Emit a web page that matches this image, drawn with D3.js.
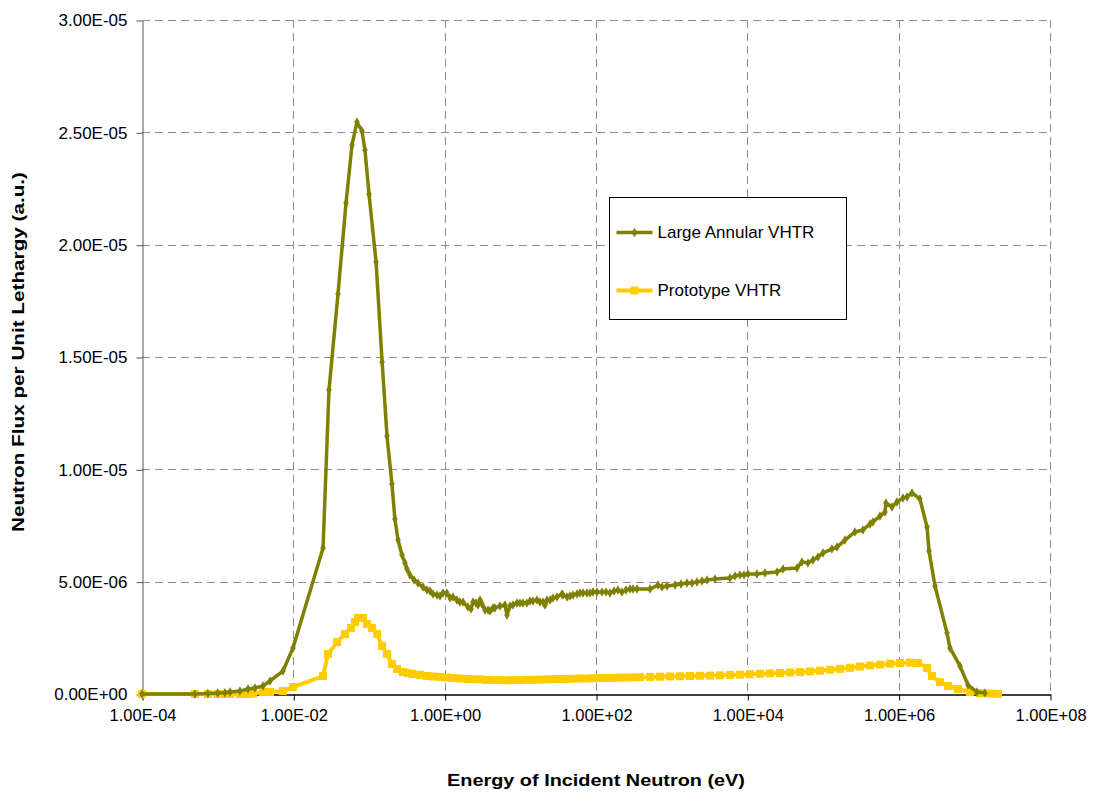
<!DOCTYPE html>
<html>
<head>
<meta charset="utf-8">
<script src="https://cdn.jsdelivr.net/npm/d3@7"></script>
<style>
  html, body { margin: 0; padding: 0; background: #fff; }
  svg { display: block; font-family: "Liberation Sans", Arial, sans-serif; }
</style>
</head>
<body>
<svg id="chart" width="1099" height="795"></svg>
<script>
// Neutron energy (eV) and flux per unit lethargy for the large annular core
const energyLarge = [
  1.0e-4, 5.0e-4, 7.4e-4, 1.0e-3, 1.25e-3, 1.46e-3, 1.97e-3, 2.52e-3, 3.11e-3, 3.97e-3,
  4.92e-3, 7.29e-3, 9.89e-3, 2.47e-2, 2.96e-2, 3.89e-2, 4.97e-2, 5.96e-2, 6.93e-2, 8.07e-2,
  8.85e-2, 0.100, 0.124, 0.149, 0.173, 0.201, 0.220, 0.242, 0.273, 0.299,
  0.318, 0.348, 0.394, 0.444, 0.518, 0.583, 0.640, 0.702, 0.792, 0.867,
  0.951, 1.07, 1.18, 1.29, 1.45, 1.59, 1.75, 2.03, 2.23, 2.37,
  2.59, 2.76, 2.93, 3.11, 3.41, 3.74, 3.97, 4.35, 4.62, 5.38,
  6.27, 6.66, 7.30, 8.00, 9.03, 9.89, 10.8, 12.2, 13.4, 14.7,
  16.6, 18.2, 19.9, 21.2, 22.5, 24.7, 27.0, 30.5, 35.5, 36.6,
  41.4, 45.3, 49.7, 56.1, 61.4, 67.3, 76.0, 83.2, 91.2, 103,
  120, 136, 153, 173, 195, 220, 249, 281, 308, 348,
  517, 659, 745, 867, 1107, 1327, 1592, 1854, 2158, 2518,
  2931, 3733, 5902, 6871, 7998, 9036, 1.02e4, 1.34e4, 1.71e4, 2.47e4,
  2.96e4, 4.53e4, 5.27e4, 6.33e4, 7.36e4, 8.58e4, 1.0e5, 1.31e5, 1.53e5, 1.95e5,
  2.64e5, 3.37e5, 4.18e5, 4.57e5, 5.66e5, 6.59e5, 6.79e5, 8.16e5, 9.49e5, 1.14e6,
  1.29e6, 1.50e6, 1.91e6, 2.37e6, 2.52e6, 3.02e6, 4.35e6, 4.76e6, 6.46e6, 8.24e6,
  1.08e7, 1.38e7
];
const fluxLarge = [
  0, 0, 0.02e-6, 0.04e-6, 0.06e-6, 0.09e-6, 0.13e-6, 0.22e-6, 0.27e-6, 0.36e-6,
  0.58e-6, 1.02e-6, 2.05e-6, 6.50e-6, 13.53e-6, 17.80e-6, 21.85e-6, 24.44e-6, 25.46e-6, 25.06e-6,
  24.21e-6, 22.25e-6, 19.23e-6, 14.78e-6, 11.48e-6, 9.35e-6, 7.79e-6, 6.85e-6, 6.19e-6, 5.83e-6,
  5.56e-6, 5.30e-6, 5.07e-6, 4.94e-6, 4.76e-6, 4.63e-6, 4.58e-6, 4.45e-6, 4.41e-6, 4.36e-6,
  4.50e-6, 4.50e-6, 4.27e-6, 4.32e-6, 4.18e-6, 4.09e-6, 4.09e-6, 3.87e-6, 3.78e-6, 4.09e-6,
  4.05e-6, 3.96e-6, 4.18e-6, 4.01e-6, 3.74e-6, 3.74e-6, 3.69e-6, 3.83e-6, 3.83e-6, 3.92e-6,
  3.96e-6, 3.52e-6, 3.92e-6, 3.96e-6, 4.05e-6, 4.05e-6, 4.05e-6, 4.05e-6, 4.14e-6, 4.14e-6,
  4.18e-6, 4.09e-6, 4.09e-6, 3.96e-6, 4.18e-6, 4.18e-6, 4.27e-6, 4.32e-6, 4.45e-6, 4.41e-6,
  4.32e-6, 4.36e-6, 4.41e-6, 4.45e-6, 4.50e-6, 4.50e-6, 4.50e-6, 4.50e-6, 4.54e-6, 4.54e-6,
  4.54e-6, 4.54e-6, 4.50e-6, 4.58e-6, 4.63e-6, 4.54e-6, 4.63e-6, 4.67e-6, 4.67e-6, 4.67e-6,
  4.67e-6, 4.85e-6, 4.76e-6, 4.81e-6, 4.85e-6, 4.90e-6, 4.94e-6, 4.94e-6, 4.99e-6, 5.03e-6,
  5.07e-6, 5.12e-6, 5.16e-6, 5.25e-6, 5.30e-6, 5.30e-6, 5.34e-6, 5.34e-6, 5.39e-6, 5.43e-6,
  5.56e-6, 5.61e-6, 5.88e-6, 5.83e-6, 5.96e-6, 6.10e-6, 6.28e-6, 6.45e-6, 6.54e-6, 6.85e-6,
  7.21e-6, 7.30e-6, 7.57e-6, 7.66e-6, 7.92e-6, 8.10e-6, 8.50e-6, 8.32e-6, 8.55e-6, 8.72e-6,
  8.77e-6, 8.95e-6, 8.68e-6, 7.43e-6, 6.36e-6, 4.81e-6, 2.72e-6, 2.05e-6, 1.25e-6, 0.40e-6,
  0.09e-6, 0.04e-6
];

// Neutron energy (eV) and flux per unit lethargy for the prototype core
const energyProto = [
  1.0e-4, 5.0e-4, 7.4e-4, 1.0e-3, 1.25e-3, 1.46e-3, 1.97e-3, 2.52e-3, 2.93e-3, 3.97e-3,
  4.92e-3, 7.29e-3, 9.89e-3, 2.47e-2, 2.87e-2, 3.78e-2, 4.82e-2, 5.78e-2, 6.53e-2, 7.16e-2,
  8.34e-2, 9.40e-2, 0.110, 0.128, 0.149, 0.173, 0.201, 0.234, 0.281, 0.327,
  0.381, 0.472, 0.583, 0.702, 0.867, 1.07, 1.29, 1.59, 1.97, 2.37,
  2.93, 3.62, 4.35, 5.38, 6.66, 8.00, 9.89, 12.2, 14.7, 18.2,
  22.5, 27.0, 33.4, 41.4, 49.7, 61.4, 76.0, 91.2, 113, 140,
  167, 207, 257, 308, 381, 517, 700, 950, 1288, 1747,
  2366, 3208, 4348, 5902, 7998, 1.08e4, 1.47e4, 1.99e4, 2.70e4, 3.66e4,
  4.97e4, 6.73e4, 9.12e4, 1.24e5, 1.67e5, 2.27e5, 3.08e5, 4.18e5, 5.66e5, 7.67e5,
  1.04e6, 1.41e6, 1.80e6, 2.37e6, 2.75e6, 3.52e6, 4.48e6, 6.08e6, 8.75e6, 1.19e7,
  1.61e7, 2.05e7
];
const fluxProto = [
  0, 0, 0, 0, 0, 0, 0, 0, 0.02e-6, 0.09e-6,
  0.09e-6, 0.13e-6, 0.31e-6, 0.80e-6, 1.78e-6, 2.31e-6, 2.67e-6, 2.94e-6, 3.20e-6, 3.38e-6,
  3.38e-6, 3.12e-6, 2.94e-6, 2.67e-6, 2.14e-6, 1.78e-6, 1.34e-6, 1.11e-6, 0.98e-6, 0.93e-6,
  0.89e-6, 0.85e-6, 0.80e-6, 0.78e-6, 0.76e-6, 0.74e-6, 0.71e-6, 0.69e-6, 0.67e-6, 0.66e-6,
  0.65e-6, 0.63e-6, 0.62e-6, 0.62e-6, 0.61e-6, 0.62e-6, 0.62e-6, 0.63e-6, 0.63e-6, 0.64e-6,
  0.65e-6, 0.66e-6, 0.67e-6, 0.67e-6, 0.68e-6, 0.69e-6, 0.69e-6, 0.70e-6, 0.71e-6, 0.71e-6,
  0.72e-6, 0.73e-6, 0.73e-6, 0.74e-6, 0.75e-6, 0.76e-6, 0.77e-6, 0.78e-6, 0.79e-6, 0.80e-6,
  0.81e-6, 0.82e-6, 0.83e-6, 0.85e-6, 0.86e-6, 0.88e-6, 0.90e-6, 0.92e-6, 0.94e-6, 0.96e-6,
  0.98e-6, 1.01e-6, 1.04e-6, 1.08e-6, 1.12e-6, 1.17e-6, 1.22e-6, 1.27e-6, 1.31e-6, 1.35e-6,
  1.38e-6, 1.40e-6, 1.38e-6, 1.16e-6, 0.80e-6, 0.53e-6, 0.36e-6, 0.22e-6, 0.09e-6, 0.04e-6,
  0.02e-6, 0.01e-6
];

const seriesNames = ["Large Annular VHTR", "Prototype VHTR"];
const seriesColors = ["#808000", "#FFCC00"];

const xTicks = [1e-4, 1e-2, 1e0, 1e2, 1e4, 1e6, 1e8];
const yTicks = [0, 5e-6, 1e-5, 1.5e-5, 2e-5, 2.5e-5, 3e-5];

const xTitle = "Energy of Incident Neutron (eV)";
const yTitle = "Neutron Flux per Unit Lethargy (a.u.)";

// Spreadsheet-style scientific notation: 1.00E-04
function sci(v) {
  if (v === 0) return "0.00E+00";
  let e = Math.floor(Math.log10(Math.abs(v)) + 1e-9);
  let m = v / Math.pow(10, e);
  if (Math.abs(m) >= 9.995) { m /= 10; e += 1; }
  return m.toFixed(2) + "E" + (e < 0 ? "-" : "+") + String(Math.abs(e)).padStart(2, "0");
}

const svg = d3.select("#chart");
const plot = { left: 142, top: 20, right: 1050, bottom: 694 };

const x = d3.scaleLog().domain([1e-4, 1e8]).range([plot.left, plot.right]);
const y = d3.scaleLinear().domain([0, 3e-5]).range([plot.bottom, plot.top]);

// Dashed grid
const grid = svg.append("g").attr("stroke", "#8c8c8c").attr("stroke-width", 1)
  .attr("stroke-dasharray", "8,5");
grid.selectAll("line.h").data(yTicks.filter(d => d > 0)).join("line")
  .attr("class", "h")
  .attr("x1", plot.left).attr("x2", plot.right)
  .attr("y1", d => Math.round(y(d)) + 0.5).attr("y2", d => Math.round(y(d)) + 0.5);
grid.selectAll("line.v").data(xTicks.slice(1)).join("line")
  .attr("class", "v")
  .attr("y1", plot.top).attr("y2", plot.bottom)
  .attr("x1", d => Math.round(x(d)) + 0.5).attr("x2", d => Math.round(x(d)) + 0.5);

// Axes
const xAxis = d3.axisBottom(x).tickValues(xTicks).tickFormat(sci).tickSize(6).tickSizeOuter(0);
const yAxis = d3.axisLeft(y).tickValues(yTicks).tickFormat(sci).tickSize(6).tickSizeOuter(0);

const gx = svg.append("g").attr("transform", `translate(0.5,${plot.bottom + 0.5})`).call(xAxis);
const gy = svg.append("g").attr("transform", `translate(${plot.left + 0.5},0.5)`).call(yAxis);

gx.select(".domain").attr("stroke", "#000").attr("stroke-width", 1.3);
gx.selectAll(".tick line").attr("stroke", "#000");
gx.selectAll(".tick text").attr("font-size", 16.5).attr("fill", "#000").attr("dy", "1.05em")
  .attr("font-family", "Liberation Sans, Arial, sans-serif");
gy.select(".domain").attr("stroke", "#555");
gy.selectAll(".tick line").attr("stroke", "#555");
gy.selectAll(".tick text").attr("font-size", 17).attr("fill", "#000").attr("x", -15)
  .attr("font-family", "Liberation Sans, Arial, sans-serif");

// Axis titles
svg.append("text")
  .attr("x", 596).attr("y", 786)
  .attr("text-anchor", "middle")
  .attr("font-size", 17).attr("font-weight", "bold")
  .attr("textLength", 298).attr("lengthAdjust", "spacingAndGlyphs")
  .text(xTitle);
svg.append("text")
  .attr("transform", "translate(24,352) rotate(-90)")
  .attr("text-anchor", "middle")
  .attr("font-size", 17).attr("font-weight", "bold")
  .attr("textLength", 360).attr("lengthAdjust", "spacingAndGlyphs")
  .text(yTitle);

// Series
const large = energyLarge.map((e, i) => ({ e, v: fluxLarge[i] }));
const proto = energyProto.map((e, i) => ({ e, v: fluxProto[i] }));

const line = d3.line().x(d => x(d.e)).y(d => y(d.v));

const gProto = svg.append("g");
gProto.append("path").datum(proto)
  .attr("fill", "none").attr("stroke", seriesColors[1]).attr("stroke-width", 4)
  .attr("stroke-linejoin", "round").attr("d", line);
gProto.selectAll("rect").data(proto).join("rect")
  .attr("x", d => x(d.e) - 4).attr("y", d => y(d.v) - 4)
  .attr("width", 8).attr("height", 8).attr("fill", seriesColors[1]);

const gLarge = svg.append("g");
gLarge.append("path").datum(large)
  .attr("fill", "none").attr("stroke", seriesColors[0]).attr("stroke-width", 3.5)
  .attr("stroke-linejoin", "round").attr("d", line);
const diamond = d3.symbol().type(d3.symbolDiamond).size(26);
gLarge.selectAll("path.pt").data(large).join("path")
  .attr("class", "pt")
  .attr("transform", d => `translate(${x(d.e)},${y(d.v)})`)
  .attr("d", diamond).attr("fill", seriesColors[0]);

// Legend
const legend = svg.append("g").attr("transform", "translate(609.5,197.5)");
legend.append("rect").attr("width", 237).attr("height", 122)
  .attr("fill", "#fff").attr("stroke", "#000").attr("stroke-width", 1);
const rows = legend.selectAll("g.row").data(seriesNames).join("g")
  .attr("class", "row")
  .attr("transform", (d, i) => `translate(0,${35 + i * 58})`);
rows.append("line").attr("x1", 7).attr("x2", 43)
  .attr("stroke", (d, i) => seriesColors[i]).attr("stroke-width", (d, i) => i === 0 ? 3.5 : 4);
rows.filter((d, i) => i === 0).append("path")
  .attr("transform", "translate(25,0)").attr("d", diamond).attr("fill", seriesColors[0]);
rows.filter((d, i) => i === 1).append("rect")
  .attr("x", 21).attr("y", -4).attr("width", 8).attr("height", 8).attr("fill", seriesColors[1]);
rows.append("text").attr("x", 48).attr("y", 0).attr("dy", "0.35em")
  .attr("font-size", 17).attr("fill", "#000").text(d => d);
</script>
</body>
</html>
